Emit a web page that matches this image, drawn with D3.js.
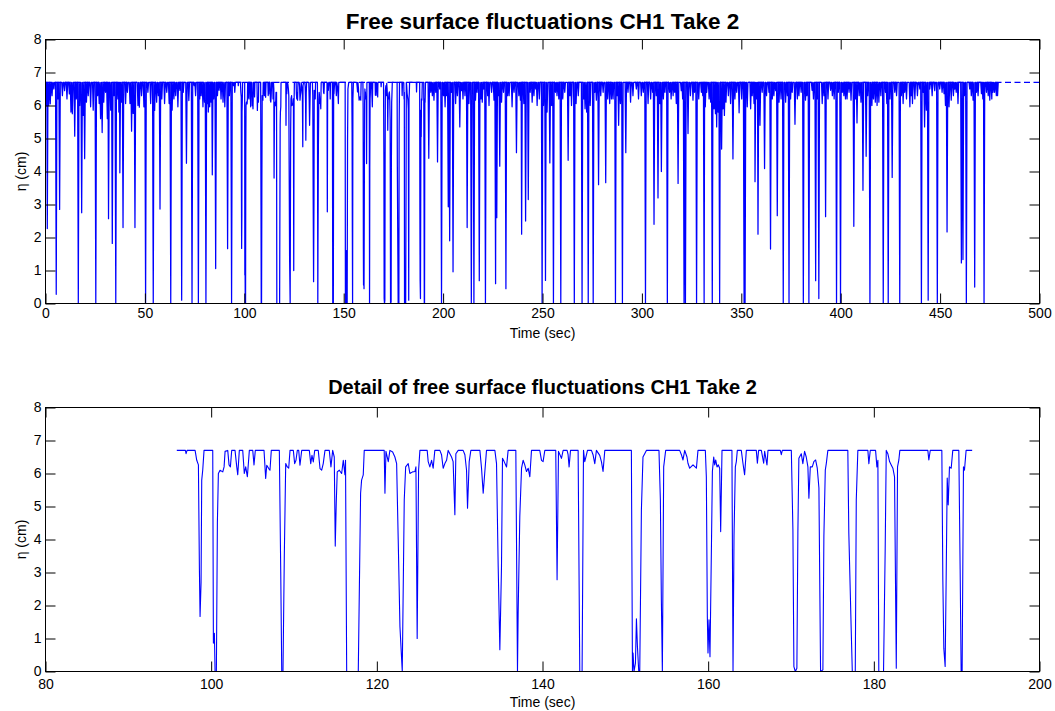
<!DOCTYPE html>
<html><head><meta charset="utf-8">
<script src="https://cdn.jsdelivr.net/npm/d3@7"></script>
<style>body{margin:0;background:#fff} svg text{font-family:"Liberation Sans",Arial,sans-serif}</style>
</head><body><svg id="c" width="1055" height="711"></svg>
<script>
// ---- data ----
const restLevel = 6.7;               // clipped free-surface level (cm)
const overviewTimeTicks = [0,50,100,150,200,250,300,350,400,450,500];
const detailTimeTicks = [80,100,120,140,160,180,200];
const etaTicks = [0,1,2,3,4,5,6,7,8];
const dashedLevelSpan = [0,500];

// dips in the overview before the detail window: [time (s), minimum eta (cm)]
const overviewEarlyDips = [[0.35,6.0],[0.9,2.27],[1.6,6.0],[2.4,6.05],[3.3,6.3],[4.2,6.5],[5.4,0.28],[6.3,6.2],[7.1,2.85],[8.5,6.3],[9.6,6.45],[10.8,6.2],[12.0,6.35],[12.8,5.8],[13.5,5.75],[14.7,5.07],[15.5,6.2],[16.5,0],[17.2,6.0],[18.2,2.75],[18.9,5.7],[19.7,4.39],[20.6,6.1],[21.5,6.3],[22.7,5.96],[24.0,5.86],[25.3,0],[26.2,6.3],[27.0,6.06],[27.7,5.6],[28.5,5.18],[29.3,6.1],[30.2,6.4],[31.1,5.6],[31.7,2.57],[32.8,5.86],[33.6,1.82],[34.4,6.3],[35.35,0],[36.4,6.2],[36.9,5.8],[37.4,3.96],[38.2,6.1],[39.0,2.3],[40.3,6.06],[41.2,6.4],[42.5,6.06],[43.3,5.22],[44.1,5.76],[45.0,2.3],[46.5,6.0],[47.2,5.95],[48.3,6.3],[49.5,5.96],[50.35,0],[51.5,6.4],[52.9,6.06],[54.2,0],[54.9,5.85],[55.9,6.1],[56.8,6.3],[57.6,2.86],[58.5,6.2],[59.9,6.06],[61.0,6.4],[62.2,6.06],[63.0,0],[63.7,5.86],[64.6,6.2],[65.5,6.3],[66.6,5.96],[67.6,6.46],[68.5,0.1],[69.3,6.4],[70.9,4.25],[72.1,6.15],[73.7,0],[74.8,6.6],[75.5,6.3],[76.9,0],[77.6,6.2],[78.3,6.3],[79.2,5.96],[80.0,6.1],[80.7,0],[81.4,6.06],[81.9,5.8],[82.6,5.96],[83.3,6.1],[83.9,3.9],[84.6,6.2],[85.6,1.06],[86.5,6.3],[87.3,6.46],[88.3,6.2],[89.3,6.1],[90.2,5.96],[91.6,1.66],[92.5,6.3],[93.6,0],[94.6,6.6],[95.2,6.4]];

// detail record 96-192 s: [time (s), eta (cm)]
const detailSeries = [[95.85,6.7],[96.89,6.7],[96.97,6.6],[97.09,6.7],[98.06,6.7],[98.26,6.4],[98.46,6.26],[98.58,3.1],[98.66,1.67],[98.78,2.7],[98.86,5.8],[98.98,6.1],[99.14,6.7],[100.19,6.7],[100.27,0.86],[100.39,1.16],[100.47,0],[100.63,0],[100.75,4.5],[100.87,6.0],[101.07,6.1],[101.4,6.05],[101.56,6.2],[101.68,6.67],[102.0,6.7],[102.16,6.26],[102.32,6.2],[102.48,6.7],[102.88,6.7],[103.09,6.2],[103.21,5.96],[103.4,6.7],[103.81,6.7],[104.0,6.0],[104.17,6.2],[104.37,5.9],[104.61,6.7],[105.02,6.7],[105.17,6.26],[105.33,6.7],[106.38,6.7],[106.58,5.85],[106.71,6.25],[106.95,6.15],[107.1,6.1],[107.26,6.7],[108.23,6.7],[108.4,3.0],[108.52,0],[108.67,0],[108.83,3.5],[109.0,6.3],[109.19,6.2],[109.36,6.16],[109.52,6.7],[109.92,6.7],[110.08,6.3],[110.24,6.4],[110.4,6.7],[110.57,6.7],[110.72,6.25],[110.93,6.7],[111.85,6.7],[112.02,6.3],[112.17,6.55],[112.33,6.35],[112.5,6.7],[112.93,6.7],[113.14,6.15],[113.34,6.1],[113.53,6.3],[113.74,6.7],[114.26,6.7],[114.46,6.2],[114.67,6.7],[114.86,6.5],[114.98,3.8],[115.1,5.1],[115.22,6.05],[115.47,6.1],[115.75,6.0],[115.95,6.4],[116.15,5.96],[116.22,6.4],[116.36,0],[117.76,0],[118.04,5.4],[118.16,5.8],[118.36,5.96],[118.48,6.7],[120.89,6.7],[120.98,5.4],[121.1,6.67],[121.38,6.36],[121.58,6.7],[121.91,6.65],[122.18,6.5],[122.39,6.3],[122.58,4.0],[122.79,1.36],[123.07,0],[123.31,5.2],[123.48,6.2],[123.79,6.3],[123.99,6.0],[124.32,6.05],[124.6,6.06],[124.72,6.2],[124.87,1.0],[125.04,6.1],[125.2,6.7],[126.08,6.7],[126.2,6.36],[126.4,6.2],[126.61,6.4],[126.8,6.16],[127.0,6.7],[127.61,6.7],[127.81,6.57],[128.01,6.16],[128.21,6.3],[128.42,6.4],[128.61,6.7],[129.02,6.5],[129.21,6.36],[129.42,4.75],[129.54,6.6],[129.82,6.7],[130.42,6.7],[130.63,6.57],[130.83,6.1],[130.95,4.95],[131.15,6.36],[131.35,6.7],[132.44,6.7],[132.64,6.16],[132.84,5.4],[133.04,6.06],[133.24,6.7],[134.25,6.7],[134.45,6.3],[134.65,3.18],[134.85,0.66],[135.05,3.18],[135.17,6.46],[135.37,6.36],[135.66,6.2],[135.85,6.7],[136.78,6.7],[136.98,0],[137.06,1.77],[137.26,4.7],[137.47,6.16],[137.66,6.4],[137.86,6.26],[138.07,6.06],[138.27,6.16],[138.47,5.9],[138.67,6.7],[139.67,6.7],[139.88,6.4],[140.07,6.36],[140.28,6.7],[141.6,6.7],[141.76,2.78],[141.93,6.67],[142.29,6.46],[142.49,6.7],[142.97,6.7],[143.09,6.57],[143.21,6.2],[143.38,6.7],[144.3,6.7],[144.5,0],[144.78,0],[144.95,6.7],[145.1,6.36],[145.31,6.57],[145.43,6.7],[145.91,6.7],[146.1,6.57],[146.31,6.3],[146.51,6.7],[146.91,6.55],[147.12,6.35],[147.31,6.06],[147.52,6.7],[150.73,6.7],[150.86,0],[150.93,0.56],[151.05,0],[151.22,0.25],[151.34,1.6],[151.46,0.76],[151.62,0],[151.74,0],[151.94,4.9],[152.13,6.5],[152.34,6.6],[152.54,6.7],[154.06,6.7],[154.23,5.2],[154.35,2.17],[154.47,0],[154.63,6.2],[154.87,6.7],[156.56,6.7],[156.77,6.57],[156.96,6.41],[157.17,6.7],[157.44,6.5],[157.56,6.31],[157.77,6.16],[158.17,6.26],[158.58,6.16],[158.77,6.7],[159.66,6.7],[159.78,5.9],[159.9,1.67],[159.98,0.56],[160.1,1.57],[160.22,0.45],[160.39,3.7],[160.51,6.06],[160.67,6.5],[160.79,6.26],[160.91,6.41],[161.07,6.2],[161.23,6.26],[161.39,6.16],[161.51,4.24],[161.67,6.7],[162.87,6.7],[163.0,0],[163.12,4.1],[163.28,6.2],[163.4,6.36],[163.52,6.7],[164.0,6.7],[164.2,6.31],[164.4,5.96],[164.61,6.7],[165.81,6.7],[165.94,6.31],[166.09,6.7],[166.42,6.7],[166.7,6.31],[166.82,6.67],[167.1,6.26],[167.22,6.7],[168.71,6.7],[168.83,6.57],[168.95,6.7],[170.04,6.7],[170.23,4.3],[170.35,0.15],[170.52,0],[170.71,0.1],[170.83,4.2],[170.95,6.46],[171.24,6.6],[171.43,6.3],[171.64,6.67],[171.84,6.5],[172.04,6.2],[172.16,5.25],[172.33,6.2],[172.57,6.2],[172.76,6.36],[172.97,6.41],[173.17,6.16],[173.37,5.56],[173.57,0],[173.85,0.05],[173.97,4.1],[174.14,6.1],[174.26,6.3],[174.45,6.7],[176.86,6.7],[176.98,4.2],[177.27,1.26],[177.4,0],[177.76,0],[177.88,5.2],[178.07,6.7],[179.28,6.7],[179.4,6.3],[179.57,6.7],[180.21,6.7],[180.37,6.2],[180.49,6.4],[180.6,0],[181.17,0],[181.37,3.7],[181.5,6.7],[181.69,6.6],[181.9,6.36],[182.1,6.26],[182.3,6.16],[182.5,5.9],[182.71,0.1],[182.86,6.2],[183.02,6.41],[183.14,6.7],[186.52,6.7],[186.64,6.41],[186.81,6.7],[188.21,6.7],[188.33,2.78],[188.45,0.7],[188.61,0.15],[188.73,2.78],[188.86,5.86],[188.98,5.05],[189.13,6.2],[189.34,6.16],[189.53,6.7],[190.26,6.7],[190.42,3.1],[190.54,0],[190.66,0],[190.82,6.2],[190.94,6.1],[191.14,6.7],[191.87,6.7]];

// dips in the overview after the detail window: [time (s), minimum eta (cm)]
const overviewLateDips = [[192.8,4.4],[193.8,6.4],[194.6,6.3],[195.4,6.16],[196.3,6.4],[197.2,4.29],[198.3,6.5],[199.2,0],[200.2,6.3],[201.0,5.96],[201.8,6.3],[202.6,2.93],[203.3,1.9],[204.2,6.4],[205.0,0.96],[206.3,6.06],[207.2,6.3],[208.4,5.35],[209.2,6.45],[210.0,6.2],[211.0,6.3],[212.1,2.3],[213.0,6.06],[214.2,0],[215.5,0],[216.3,6.16],[217.1,6.4],[218.2,0.69],[219.0,6.2],[219.7,6.1],[220.5,6.5],[221.3,0],[222.4,6.3],[223.1,6.0],[224.4,6.4],[225.6,6.16],[226.4,0.6],[227.0,2.6],[227.8,6.3],[228.5,4.16],[229.4,6.1],[230.4,6.4],[231.6,0.45],[232.4,6.3],[233.2,6.3],[234.7,5.96],[235.7,6.4],[236.9,4.57],[238.1,6.3],[238.9,6.16],[239.5,2.1],[240.6,6.06],[241.5,2.5],[242.85,3.15],[243.8,6.4],[244.8,6.1],[245.7,6.3],[246.6,6.5],[247.3,6.0],[248.4,6.2],[249.8,0],[250.5,6.0],[251.5,0.7],[252.3,5.8],[253.7,4.26],[254.6,6.0],[255.5,0],[256.5,6.4],[257.3,6.3],[258.2,6.2],[259.2,0],[260.2,6.2],[261.2,6.4],[262.9,4.34],[263.8,6.3],[264.6,6.0],[266.0,0],[266.9,6.06],[268.0,6.3],[269.9,0],[270.7,6.2],[271.4,5.9],[272.2,5.8],[273.0,0],[274.0,6.0],[275.5,0],[276.3,6.4],[277.1,6.16],[278.2,3.6],[279.3,6.3],[280.5,6.4],[281.8,3.66],[282.8,6.2],[283.8,6.06],[284.7,6.2],[285.5,6.2],[286.7,0],[287.5,6.3],[288.3,5.4],[289.2,6.06],[290.2,0],[291.9,4.57],[293.0,6.4],[294.3,6.1],[295.5,6.3],[297.2,6.5],[298.3,6.2],[299.7,6.3],[300.7,6.4],[301.8,0],[303.1,6.06],[304.4,6.2],[305.4,6.4],[306.1,2.4],[307.2,6.3],[308.1,3.2],[309.0,6.06],[309.8,4.0],[310.8,6.2],[311.6,6.4],[312.8,0],[313.9,6.4],[314.7,6.2],[315.7,6.3],[316.5,6.4],[317.3,6.06],[318.2,3.64],[319.8,6.45],[320.5,6.2],[321.2,0],[321.9,0],[323.2,5.15],[324.4,6.3],[325.7,6.16],[326.5,6.4],[327.5,0],[328.6,6.2],[329.9,6.4],[330.6,6.3],[331.3,0],[331.9,5.96],[332.6,6.4],[333.8,6.2],[334.6,6.1],[335.4,0],[336.3,5.9],[337.0,5.75],[337.6,5.35],[338.3,5.8],[339.1,0],[340.1,4.68],[340.8,5.9],[341.5,5.7],[342.3,6.1],[343.5,6.3],[344.6,6.06],[345.8,4.38],[346.8,6.2],[347.7,6.4],[348.9,5.78],[350.2,6.2],[351.4,0],[351.9,0],[353.0,5.96],[354.7,5.9],[355.5,6.3],[356.4,6.06],[356.9,3.69],[357.8,6.2],[358.4,2.1],[359.4,5.4],[360.5,6.4],[361.7,4.09],[362.7,6.3],[363.9,6.4],[364.7,1.65],[365.6,6.2],[366.4,6.3],[367.3,6.45],[368.1,2.66],[369.0,6.1],[370.0,6.2],[371.1,0],[372.3,6.1],[373.2,6.3],[374.0,0],[374.8,6.2],[375.6,6.4],[377.0,5.43],[378.2,6.2],[379.0,6.3],[380.1,6.4],[381.2,0],[382.3,6.16],[383.0,6.3],[384.0,0],[385.6,6.46],[386.3,6.2],[387.4,0.69],[388.2,6.2],[389.0,0.15],[390.7,6.06],[391.6,6.3],[392.4,2.63],[393.6,6.2],[394.9,6.46],[395.8,6.3],[396.7,6.2],[397.9,0],[398.8,6.4],[399.9,0],[400.8,6.4],[401.6,6.3],[402.4,6.2],[403.2,6.2],[404.2,6.4],[405.2,6.16],[406.6,2.34],[407.5,6.2],[408.2,5.47],[409.3,6.3],[410.2,6.1],[411.2,3.43],[412.8,4.46],[413.6,6.3],[414.7,0],[415.7,6.0],[416.5,6.2],[417.4,6.1],[418.3,6.0],[419.2,6.1],[420.2,6.3],[421.4,0],[422.5,6.4],[423.2,6.06],[423.9,0],[424.8,6.2],[425.9,3.82],[427.2,6.4],[428.1,6.3],[429.7,0],[430.5,6.3],[431.4,6.06],[432.2,6.4],[433.1,6.2],[434.8,5.96],[435.5,6.3],[436.1,6.06],[437.3,6.2],[438.6,6.3],[439.8,6.5],[440.6,0],[441.5,6.4],[442.2,5.35],[443.1,5.86],[444.0,0.1],[444.8,6.5],[446.0,6.3],[447.3,6.45],[448.6,0],[449.8,6.5],[451.0,6.4],[452.0,6.36],[452.7,6.0],[453.5,2.17],[454.5,5.96],[455.6,6.16],[456.7,6.3],[457.4,6.5],[458.1,6.4],[459.0,6.06],[460.7,1.23],[461.5,1.33],[462.2,6.3],[463.2,0],[464.9,6.5],[465.7,6.3],[466.6,6.16],[467.4,0.5],[468.3,6.4],[469.1,6.3],[470.8,6.36],[471.5,6.2],[472.1,0],[473.3,6.4],[474.2,6.3],[475.0,6.16],[476.0,6.2],[476.6,6.4],[477.4,6.4],[478.3,6.3],[478.9,6.3]];

// ---- drawing ----
const svg = d3.select('#c');
const left = 45.5, right = 1039.5;
const dipHalfWidth = 0.35;
function dipsToPoints(dips){
  const pts = [];
  dips.forEach(([t,v]) => { pts.push([t-dipHalfWidth, restLevel],[t, v],[t+dipHalfWidth, restLevel]); });
  return pts;
}
const overviewSeries = [...dipsToPoints(overviewEarlyDips), ...detailSeries, ...dipsToPoints(overviewLateDips)]
  .sort((a,b)=>a[0]-b[0]);

const panels = [
  {id:'p1', top:39.5, bottom:303.5, domain:[0,500], ticks:overviewTimeTicks, series:overviewSeries, dashed:true,
   lineWidth:1.25, xPad:5, title:'Free surface fluctuations CH1 Take 2', titleSize:22.5, titleY:28.5, xLabelY:337.5},
  {id:'p2', top:407.5, bottom:671.5, domain:[80,200], ticks:detailTimeTicks, series:detailSeries, dashed:false,
   lineWidth:1.1, xPad:8, title:'Detail of free surface fluctuations CH1 Take 2', titleSize:20, titleY:393.5, xLabelY:707}
];

panels.forEach(p => {
  const x = d3.scaleLinear().domain(p.domain).range([left, right]);
  const y = d3.scaleLinear().domain([0, 8]).range([p.bottom, p.top]);
  const g = svg.append('g');

  g.append('clipPath').attr('id', 'clip-'+p.id).append('rect')
    .attr('x', left).attr('y', p.top).attr('width', right-left).attr('height', p.bottom-p.top);

  const line = d3.line().x(d => x(d[0])).y(d => y(d[1]));
  const plot = g.append('g').attr('clip-path', `url(#clip-${p.id})`);

  if (p.dashed) {
    plot.append('path').datum(dashedLevelSpan.map(t => [t, restLevel]))
      .attr('d', line).attr('fill','none').attr('stroke','#0000ff')
      .attr('stroke-width',1.4).attr('stroke-dasharray','6,3.5');
  }
  plot.append('path').datum(p.series).attr('d', line)
    .attr('fill','none').attr('stroke','#0000ff').attr('stroke-width',p.lineWidth).attr('stroke-linejoin','round');

  const styleAxis = sel => {
    sel.select('.domain').remove();
    sel.selectAll('.tick line').attr('stroke','#000');
    sel.selectAll('.tick text').attr('fill','#000').attr('font-size',14)
      .attr('font-family','"Liberation Sans", Arial, sans-serif');
  };
  g.append('g').attr('transform',`translate(0,${p.bottom})`)
    .call(d3.axisBottom(x).tickValues(p.ticks).tickSizeInner(-10).tickSizeOuter(0).tickPadding(p.xPad).tickFormat(d3.format('d')))
    .call(styleAxis);
  g.append('g').attr('transform',`translate(0,${p.top})`)
    .call(d3.axisTop(x).tickValues(p.ticks).tickSizeInner(-10).tickSizeOuter(0).tickFormat(() => ''))
    .call(styleAxis);
  g.append('g').attr('transform',`translate(${left},0)`)
    .call(d3.axisLeft(y).tickValues(etaTicks).tickSizeInner(-10).tickSizeOuter(0).tickPadding(4).tickFormat(d3.format('d')))
    .call(styleAxis);
  g.append('g').attr('transform',`translate(${right},0)`)
    .call(d3.axisRight(y).tickValues(etaTicks).tickSizeInner(-10).tickSizeOuter(0).tickFormat(() => ''))
    .call(styleAxis);

  g.append('rect').attr('x', left).attr('y', p.top).attr('width', right-left).attr('height', p.bottom-p.top)
    .attr('fill','none').attr('stroke','#000').attr('stroke-width',1);

  g.append('text').attr('x', (left+right)/2).attr('y', p.titleY).attr('text-anchor','middle')
    .attr('font-size', p.titleSize).attr('font-weight','bold').attr('fill','#000').text(p.title);
  g.append('text').attr('x', (left+right)/2).attr('y', p.xLabelY).attr('text-anchor','middle')
    .attr('font-size', 14).attr('fill','#000').text('Time (sec)');
  g.append('text').attr('transform', `translate(26,${(p.top+p.bottom)/2}) rotate(-90)`).attr('text-anchor','middle')
    .attr('font-size', 14).attr('fill','#000').text('η (cm)');
});
</script>
</body></html>
